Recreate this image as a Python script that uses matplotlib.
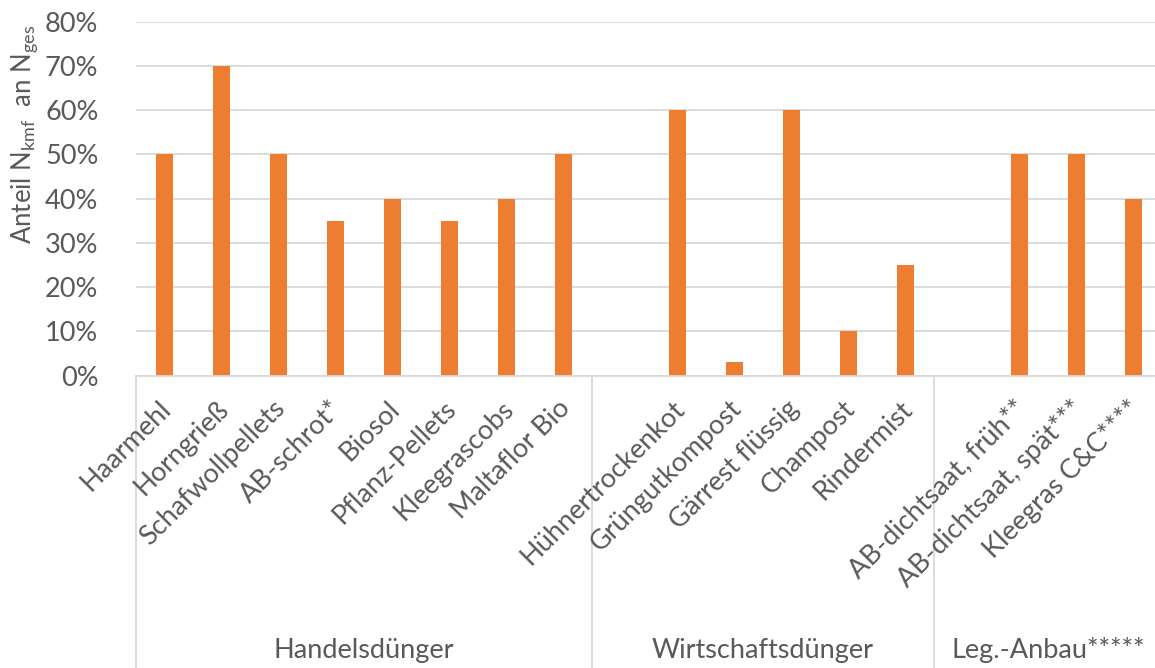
import matplotlib
matplotlib.use("Agg")
import matplotlib.pyplot as plt
import numpy as np

# Categories grouped by fertiliser type; an empty slot opens the 2nd and 3rd group
groups = ["Handelsdünger", "Wirtschaftsdünger", "Leg.-Anbau*****"]
group_categories = [
    ["Haarmehl", "Horngrieß", "Schafwollpellets", "AB-schrot*", "Biosol",
     "Pflanz-Pellets", "Kleegrascobs", "Maltaflor Bio"],
    ["", "Hühnertrockenkot", "Grüngutkompost", "Gärrest flüssig", "Champost",
     "Rindermist"],
    ["", "AB-dichtsaat, früh**", "AB-dichtsaat, spät***", "Kleegras C&C****"],
]
group_values = [
    [0.50, 0.70, 0.50, 0.35, 0.40, 0.35, 0.40, 0.50],
    [None, 0.60, 0.03, 0.60, 0.10, 0.25],
    [None, 0.50, 0.50, 0.40],
]
y_ticks = [0.0, 0.1, 0.2, 0.3, 0.4, 0.5, 0.6, 0.7, 0.8]
y_label = "Anteil N$_{\\mathregular{kmf}}$  an N$_{\\mathregular{ges}}$"

BAR = "#ED7D31"
GRID = "#D9D9D9"
TXT = "#595959"
FS = 19.5

plt.rcParams["font.family"] = ["Lato", "DejaVu Sans"]
plt.rcParams["mathtext.fontset"] = "custom"
plt.rcParams["mathtext.rm"] = "Lato"

W, H = 1155, 668
fig = plt.figure(figsize=(W / 100, H / 100), dpi=100)
ax = fig.add_axes([136 / W, 292.3 / H, (1162 - 136) / W, (646.3 - 292.3) / H])

labels = [c for g in group_categories for c in g]
values = [v for g in group_values for v in g]
x = np.arange(len(labels))
for xi, v in zip(x, values):
    if v is not None:
        ax.bar(xi, v, width=0.31, color=BAR, zorder=3)

ax.set_xlim(-0.5, len(labels) - 0.5)
ax.set_ylim(0, 0.8)
ax.set_yticks(y_ticks)
ax.set_yticklabels([f"{int(round(t * 100))}%" for t in y_ticks])
ax.tick_params(axis="y", length=0, pad=27, labelsize=FS, labelcolor=TXT)
ax.set_xticks([])
ax.grid(axis="y", color=GRID, linewidth=1.3, zorder=0)
for s in ["top", "right", "left"]:
    ax.spines[s].set_visible(False)
ax.spines["bottom"].set_color(GRID)
ax.spines["bottom"].set_linewidth(1.3)
ax.spines["bottom"].set_zorder(4)

# Rotated category labels
trans_x = ax.get_xaxis_transform()
for xi, lab in zip(x, labels):
    if lab:
        ax.annotate(lab, xy=(xi, 0), xycoords=trans_x,
                    xytext=(3, -29), textcoords="offset pixels",
                    rotation=45, rotation_mode="anchor", ha="right", va="center",
                    fontsize=FS, color=TXT)

# Group dividers and group names
bounds = [-0.5]
for g in group_categories:
    bounds.append(bounds[-1] + len(g))
for b in bounds:
    ax.plot([b, b], [0, -0.9], transform=trans_x, color=GRID, linewidth=1.3,
            clip_on=False, zorder=2)
for name, a, b in zip(groups, bounds[:-1], bounds[1:]):
    ax.text((a + b) / 2, -0.775, name, transform=trans_x, ha="center",
            va="center", fontsize=FS, color=TXT)

fig.text(25 / W, (H - 134) / H, y_label, rotation=90, ha="center", va="center",
         fontsize=18.5, color=TXT)

fig.savefig("out.png", dpi=100, facecolor="white")
